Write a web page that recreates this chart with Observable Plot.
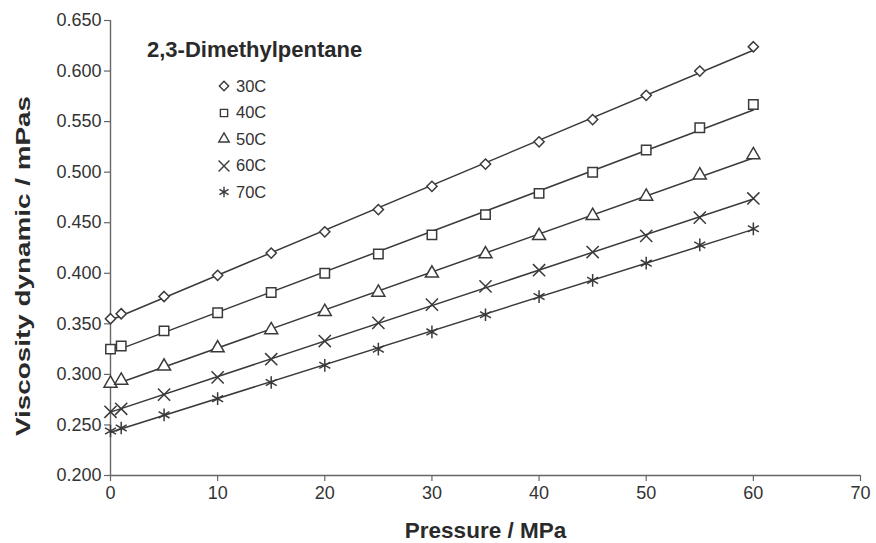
<!DOCTYPE html>
<html>
<head>
<meta charset="utf-8">
<script src="https://cdn.jsdelivr.net/npm/d3@7"></script>
<script src="https://cdn.jsdelivr.net/npm/@observablehq/plot@0.6"></script>
<style>
  body { margin: 0; background: #fff; font-family: "Liberation Sans", Arial, sans-serif; }
  #wrap { position: relative; width: 876px; height: 543px; }
  #legend { position: absolute; left: 147px; top: 37px; color: #222; }
  #legend .title { font-weight: bold; font-size: 22px; line-height: 26px; margin-bottom: 10px; color: #2a2a2a; }
  #legend .row { display: flex; align-items: center; height: 26.5px; margin-left: 69px; font-size: 16.5px; color: #333; }
  #legend svg { margin-right: 4px; }
</style>
</head>
<body>
<div id="wrap"><div id="chart"></div><div id="legend"></div></div>
<script>
const pressure = [0, 1, 5, 10, 15, 20, 25, 30, 35, 40, 45, 50, 55, 60];
const seriesNames = ["30C", "40C", "50C", "60C", "70C"];
const v30 = [0.355, 0.360, 0.377, 0.398, 0.420, 0.441, 0.463, 0.486, 0.508, 0.530, 0.552, 0.576, 0.600, 0.624];
const v40 = [0.325, 0.328, 0.343, 0.361, 0.381, 0.400, 0.419, 0.438, 0.458, 0.479, 0.500, 0.522, 0.544, 0.567];
const v50 = [0.291, 0.294, 0.308, 0.326, 0.344, 0.362, 0.381, 0.400, 0.419, 0.437, 0.457, 0.476, 0.497, 0.517];
const v60 = [0.263, 0.266, 0.280, 0.297, 0.315, 0.333, 0.351, 0.369, 0.387, 0.403, 0.421, 0.437, 0.455, 0.474];
const v70 = [0.244, 0.247, 0.260, 0.276, 0.292, 0.309, 0.325, 0.342, 0.359, 0.377, 0.393, 0.410, 0.428, 0.444];
const yTicks = [0.2, 0.25, 0.3, 0.35, 0.4, 0.45, 0.5, 0.55, 0.6, 0.65];
const xTicks = [0, 10, 20, 30, 40, 50, 60, 70];
const chartTitle = "2,3-Dimethylpentane";
const xLabel = "Pressure / MPa";
const yLabel = "Viscosity dynamic / mPas";

const symbolsPlot = ["diamond2", "square2", "triangle2", "times", "asterisk"];
const symbolsD3 = [d3.symbolDiamond2, d3.symbolSquare2, d3.symbolTriangle2, d3.symbolTimes, d3.symbolAsterisk];
const radii = [4.6, 6.0, 6.2, 5.6, 6.0];
const legendRadii = [4.2, 4.6, 5.0, 5.0, 5.0];
const filled = [true, true, true, false, false];

const allValues = [v30, v40, v50, v60, v70];
const data = [];
seriesNames.forEach((s, i) => pressure.forEach((p, j) => data.push({series: s, p, v: allValues[i][j]})));

const ink = "#3a3a3a";
const chart = Plot.plot({
  width: 876, height: 543,
  marginLeft: 110, marginRight: 16, marginTop: 20, marginBottom: 68,
  style: {fontFamily: "Liberation Sans, Arial, sans-serif", color: "#333", background: "#fff"},
  x: {domain: [0, 70]},
  y: {domain: [0.2, 0.65]},
  marks: [
    Plot.ruleX([0], {stroke: "#666", strokeWidth: 1.4}),
    Plot.ruleY([0.2], {stroke: "#666", strokeWidth: 1.4}),
    Plot.axisX({ticks: xTicks, tickSize: 6, tickPadding: 5, stroke: "#666", strokeWidth: 1.2, fontSize: 18, fill: "#333",
      label: xLabel, labelAnchor: "center", labelArrow: "none", labelOffset: 62}),
    Plot.axisY({ticks: yTicks, tickSize: 6, tickPadding: 3, tickFormat: d3.format(".3f"), stroke: "#666", strokeWidth: 1.2, fontSize: 18, fill: "#333",
      label: yLabel, labelAnchor: "center", labelArrow: "none", labelOffset: 95}),
    Plot.linearRegressionY(data, {x: "p", y: "v", z: "series", stroke: ink, strokeWidth: 1.5, ci: 0}),
    ...seriesNames.map((s, i) => Plot.dot(data.filter(d => d.series === s), {
      x: "p", y: "v", symbol: () => symbolsPlot[i], r: radii[i], stroke: ink, strokeWidth: 1.5,
      fill: filled[i] ? "white" : "none"
    }))
  ]
});
// axis label styling
chart.querySelectorAll("[aria-label='x-axis label'] text").forEach(t => {
  t.setAttribute("font-weight", "bold"); t.setAttribute("font-size", "22.5px"); t.setAttribute("fill", "#2a2a2a");
});
chart.querySelectorAll("[aria-label='y-axis label'] text").forEach(t => {
  t.setAttribute("font-weight", "bold"); t.setAttribute("font-size", "21px"); t.setAttribute("fill", "#2a2a2a");
  t.setAttribute("textLength", "340"); t.setAttribute("lengthAdjust", "spacingAndGlyphs");
  t.setAttribute("dx", "-18");
});
document.getElementById("chart").appendChild(chart);

// legend
const leg = document.getElementById("legend");
const t = document.createElement("div"); t.className = "title"; t.textContent = chartTitle; leg.appendChild(t);
seriesNames.forEach((s, i) => {
  const row = document.createElement("div"); row.className = "row";
  const sv = d3.create("svg").attr("width", 16).attr("height", 16);
  sv.append("path").attr("transform", "translate(8,8)")
    .attr("d", d3.symbol(symbolsD3[i], Math.PI * legendRadii[i] * legendRadii[i])())
    .attr("fill", filled[i] ? "white" : "none").attr("stroke", ink).attr("stroke-width", 1.4);
  row.appendChild(sv.node());
  const lab = document.createElement("span"); lab.textContent = s; row.appendChild(lab);
  leg.appendChild(row);
});
</script>
</body>
</html>
